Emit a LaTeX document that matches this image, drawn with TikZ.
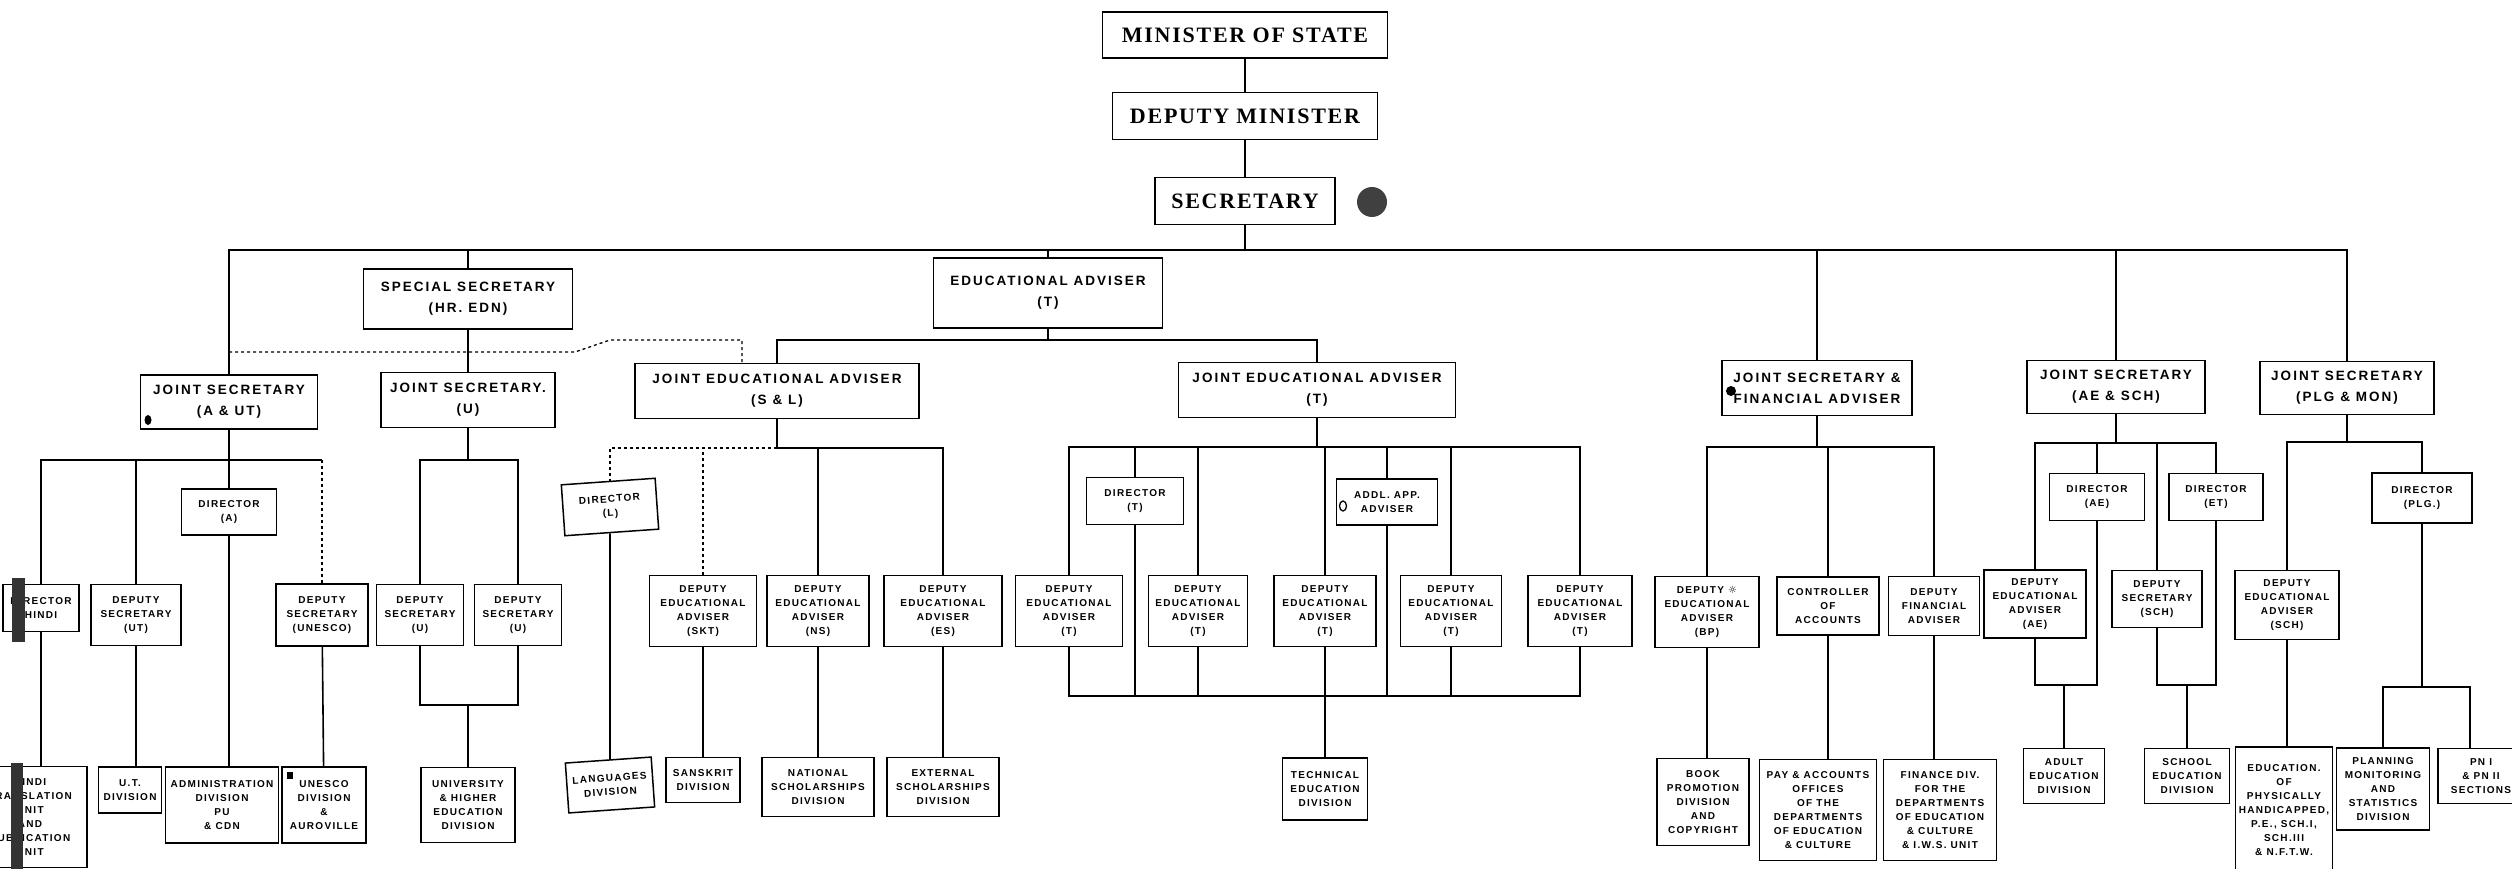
\documentclass[tikz,border=0pt]{standalone}
\usepackage{fontspec}
\usepackage{tikz}
\newfontfamily\lblserif[LetterSpace=8]{Liberation Serif}
\newfontfamily\lblhead[LetterSpace=15]{Liberation Sans}
\newfontfamily\lblunit[LetterSpace=13]{Liberation Sans}
\newfontfamily\lblsym{DejaVu Sans}

\tikzset{
  topbox/.style={draw, line width=1.4pt, inner sep=0pt, font=\lblserif\bfseries\fontsize{22}{24}\selectfont},
  headbox/.style={draw, line width=1.8pt, inner sep=0pt, align=center, font=\lblhead\bfseries\fontsize{13.5}{21}\selectfont},
  unitbox/.style={draw, line width=1.5pt, inner sep=0pt, align=center, font=\lblunit\bfseries\fontsize{10}{14}\selectfont},
  boxsize/.style 2 args={minimum width=#1pt, minimum height=#2pt},
  link/.style={line width=1.6pt},
  dotlink/.style={line width=1.3pt, dash pattern=on 3pt off 3pt},
}

\begin{document}
\begin{tikzpicture}[x=1pt, y=-1pt]
    \useasboundingbox (0,0) rectangle (2512,869);
    \clip (0,0) rectangle (2512,869);

    \node (minister) [topbox, boxsize={285}{46}] at (1245,35) {MINISTER OF STATE};
    \node (depmin) [topbox, boxsize={265}{47}] at (1245,116) {DEPUTY MINISTER};
    \node (secy) [topbox, boxsize={180}{47}] at (1245,201) {SECRETARY};
    \fill[black!75] (1372,202) circle (15pt);

    \node (spsec) [headbox, boxsize={209}{60}] at (468,299) {SPECIAL SECRETARY\\(HR. EDN)};
    \node (eduadv) [headbox, boxsize={229}{70}] at (1048,293) {EDUCATIONAL ADVISER\\(T)};
    \node (jsaut) [headbox, boxsize={177}{54}] at (229,402) {JOINT SECRETARY\\(A \& UT)};
    \node (jsu) [headbox, boxsize={174}{55}] at (468,400) {JOINT SECRETARY.\\(U)};
    \node (jeasl) [headbox, boxsize={284}{55}] at (777,391) {JOINT EDUCATIONAL ADVISER\\(S \& L)};
    \node (jeat) [headbox, boxsize={277}{55}] at (1317,390) {JOINT EDUCATIONAL ADVISER\\(T)};
    \node (jsfa) [headbox, boxsize={190}{55}] at (1817,388) {JOINT SECRETARY \&\\FINANCIAL ADVISER};
    \node (jsae) [headbox, boxsize={178}{53}] at (2116,387) {JOINT SECRETARY\\(AE \& SCH)};
    \node (jsplg) [headbox, boxsize={174}{53}] at (2347,388) {JOINT SECRETARY\\(PLG \& MON)};
    \fill (148,420) ellipse (3.5pt and 5pt);
    \fill (1731,391) circle (5pt);

    \draw[link] (minister) -- (depmin);
    \draw[link] (depmin) -- (secy);
    \coordinate (mainbar) at (0,250);
    \draw[link] (secy) -- (secy |- mainbar);
    \draw[link] (jsaut) |- (jsplg.north |- mainbar) -- (jsplg);
    \foreach \n in {spsec, eduadv, jsfa, jsae}
        \draw[link] (\n) -- (\n |- mainbar);
    \draw[link] (spsec) -- (jsu);
    \draw[dotlink] (jsaut.north |- 0,352) -- (575,352) -- (610,340) -- (742,340) -- (jeasl.north -| 742,0);

    \coordinate (eabar) at (0,340);
    \draw[link] (eduadv) -- (eduadv |- eabar);
    \draw[link] (jeasl) |- (jeat.north |- eabar) -- (jeat);

    \node (dirhindi) [unitbox, boxsize={76}{47}] at (41,608) {DIRECTOR\\HINDI};
    \node (dsut) [unitbox, boxsize={90}{61}] at (136,615) {DEPUTY\\SECRETARY\\(UT)};
    \node (dira) [unitbox, boxsize={95}{46}] at (229,512) {DIRECTOR\\(A)};
    \node (dsunesco) [unitbox, boxsize={92}{62}] at (322,615) {DEPUTY\\SECRETARY\\(UNESCO)};
    \node (hindiunit) [unitbox, boxsize={114}{101}] at (30,817) {HINDI\\TRANSLATION\\UNIT\\AND\\PUBLICATION\\UNIT};
    \node (utdiv) [unitbox, boxsize={63}{46}] at (130,790) {U.T.\\DIVISION};
    \node (admindiv) [unitbox, boxsize={113}{76}] at (222,805) {ADMINISTRATION\\DIVISION\\PU\\\& CDN};
    \node (unescodiv) [unitbox, boxsize={84}{76}] at (324,805) {UNESCO\\DIVISION\\\&\\AUROVILLE};
    \fill (287,772) rectangle (293,779);
    \fill[black!80] (12,578) rectangle (25,642);
    \fill[black!80] (11,763) rectangle (23,869);

    \coordinate (autbar) at (0,460);
    \draw[link] (jsaut) -- (jsaut |- autbar);
    \draw[link] (dirhindi) |- (dsunesco.north |- autbar);
    \draw[link] (dsut) -- (dsut |- autbar);
    \draw[link] (dira) -- (dira |- autbar);
    \draw[dotlink] (dsunesco) -- (dsunesco |- autbar);
    \draw[link] (dirhindi) -- (dirhindi |- hindiunit.north);
    \draw[link] (dsut) -- (dsut |- utdiv.north);
    \draw[link] (dira) -- (dira |- admindiv.north);
    \draw[link] (dsunesco) -- (unescodiv);

    \node (dsuone) [unitbox, boxsize={87}{61}] at (420,615) {DEPUTY\\SECRETARY\\(U)};
    \node (dsutwo) [unitbox, boxsize={87}{61}] at (518,615) {DEPUTY\\SECRETARY\\(U)};
    \node (univdiv) [unitbox, boxsize={94}{75}] at (468,805) {UNIVERSITY\\\& HIGHER\\EDUCATION\\DIVISION};
    \coordinate (ubar) at (0,460);
    \coordinate (ujoin) at (0,705);
    \draw[link] (jsu) -- (jsu |- ubar);
    \draw[link] (dsuone) |- (dsutwo.north |- ubar) -- (dsutwo);
    \draw[link] (dsuone) |- (dsutwo.south |- ujoin) -- (dsutwo);
    \draw[link] (univdiv) -- (univdiv |- ujoin);

    \node (dirl) [unitbox, boxsize={94}{51}, rotate=4] at (610,507) {DIRECTOR\\(L)};
    \node (deaskt) [unitbox, boxsize={107}{71}] at (703,611) {DEPUTY\\EDUCATIONAL\\ADVISER\\(SKT)};
    \node (deans) [unitbox, boxsize={102}{71}] at (818,611) {DEPUTY\\EDUCATIONAL\\ADVISER\\(NS)};
    \node (deaes) [unitbox, boxsize={118}{71}] at (943,611) {DEPUTY\\EDUCATIONAL\\ADVISER\\(ES)};
    \node (langdiv) [unitbox, boxsize={86}{50}, rotate=4] at (610,785) {LANGUAGES\\DIVISION};
    \node (sktdiv) [unitbox, boxsize={74}{45}] at (703,780) {SANSKRIT\\DIVISION};
    \node (nsdiv) [unitbox, boxsize={112}{59}] at (818,787) {NATIONAL\\SCHOLARSHIPS\\DIVISION};
    \node (esdiv) [unitbox, boxsize={112}{59}] at (943,787) {EXTERNAL\\SCHOLARSHIPS\\DIVISION};
    \coordinate (slbar) at (0,448);
    \draw[link] (jeasl) -- (jeasl |- slbar) -| (deaes);
    \draw[link] (deans) -- (deans |- slbar);
    \draw[dotlink] (jeasl |- slbar) -| (dirl);
    \draw[dotlink] (deaskt) -- (deaskt |- slbar);
    \draw[link] (dirl) -- (langdiv);
    \foreach \a/\b in {deaskt/sktdiv, deans/nsdiv, deaes/esdiv}
        \draw[link] (\a) -- (\b);

    \node (dirt) [unitbox, boxsize={97}{47}] at (1135,501) {DIRECTOR\\(T)};
    \node (addl) [unitbox, boxsize={101}{46}] at (1387,502) {ADDL. APP.\\ADVISER};
    \draw[line width=1.3pt] (1343,506) ellipse (3.5pt and 5pt);
    \node (deatone) [unitbox, boxsize={107}{71}] at (1069,611) {DEPUTY\\EDUCATIONAL\\ADVISER\\(T)};
    \node (deattwo) [unitbox, boxsize={99}{71}] at (1198,611) {DEPUTY\\EDUCATIONAL\\ADVISER\\(T)};
    \node (deatthree) [unitbox, boxsize={102}{71}] at (1325,611) {DEPUTY\\EDUCATIONAL\\ADVISER\\(T)};
    \node (deatfour) [unitbox, boxsize={101}{71}] at (1451,611) {DEPUTY\\EDUCATIONAL\\ADVISER\\(T)};
    \node (deatfive) [unitbox, boxsize={104}{71}] at (1580,611) {DEPUTY\\EDUCATIONAL\\ADVISER\\(T)};
    \node (techdiv) [unitbox, boxsize={85}{62}] at (1325,789) {TECHNICAL\\EDUCATION\\DIVISION};
    \coordinate (tbar) at (0,447);
    \coordinate (tjoin) at (0,696);
    \draw[link] (jeat) -- (jeat |- tbar);
    \draw[link] (deatone) |- (deatfive.north |- tbar) -- (deatfive);
    \foreach \n in {dirt, deattwo, deatthree, addl, deatfour}
        \draw[link] (\n) -- (\n |- tbar);
    \draw[link] (deatone) |- (deatfive.south |- tjoin) -- (deatfive);
    \foreach \n in {dirt, deattwo, addl, deatfour}
        \draw[link] (\n) -- (\n |- tjoin);
    \draw[link] (deatthree) -- (techdiv);

    \node (deabp) [unitbox, boxsize={104}{71}] at (1707,612) {DEPUTY {\lblsym ☼}\\EDUCATIONAL\\ADVISER\\(BP)};
    \node (ctrlacc) [unitbox, boxsize={102}{58}] at (1828,606) {CONTROLLER\\OF\\ACCOUNTS};
    \node (dfa) [unitbox, boxsize={91}{59}] at (1934,606) {DEPUTY\\FINANCIAL\\ADVISER};
    \node (bookdiv) [unitbox, boxsize={92}{87}] at (1703,802) {BOOK\\PROMOTION\\DIVISION\\AND\\COPYRIGHT};
    \node (paydiv) [unitbox, boxsize={117}{101}] at (1818,810) {PAY \& ACCOUNTS\\OFFICES\\OF THE\\DEPARTMENTS\\OF EDUCATION\\\& CULTURE};
    \node (findiv) [unitbox, boxsize={113}{101}] at (1940,810) {FINANCE DIV.\\FOR THE\\DEPARTMENTS\\OF EDUCATION\\\& CULTURE\\\& I.W.S. UNIT};
    \coordinate (fabar) at (0,447);
    \draw[link] (jsfa) -- (jsfa |- fabar);
    \draw[link] (deabp) |- (dfa.north |- fabar) -- (dfa);
    \draw[link] (ctrlacc) -- (ctrlacc |- fabar);
    \draw[link] (deabp) -- (deabp |- bookdiv.north);
    \draw[link] (ctrlacc) -- (ctrlacc |- paydiv.north);
    \draw[link] (dfa) -- (dfa |- findiv.north);

    \node (dirae) [unitbox, boxsize={95}{47}] at (2097,497) {DIRECTOR\\(AE)};
    \node (diret) [unitbox, boxsize={94}{47}] at (2216,497) {DIRECTOR\\(ET)};
    \node (deaae) [unitbox, boxsize={102}{68}] at (2035,604) {DEPUTY\\EDUCATIONAL\\ADVISER\\(AE)};
    \node (dssch) [unitbox, boxsize={90}{57}] at (2157,599) {DEPUTY\\SECRETARY\\(SCH)};
    \node (adultdiv) [unitbox, boxsize={81}{55}] at (2064,776) {ADULT\\EDUCATION\\DIVISION};
    \node (schooldiv) [unitbox, boxsize={85}{55}] at (2187,776) {SCHOOL\\EDUCATION\\DIVISION};
    \coordinate (aebar) at (0,443);
    \coordinate (aejoin) at (0,685);
    \draw[link] (jsae) -- (jsae |- aebar);
    \draw[link] (deaae) |- (diret.north |- aebar) -- (diret);
    \foreach \n in {dirae, dssch}
        \draw[link] (\n) -- (\n |- aebar);
    \draw[link] (deaae) |- (dirae.south |- aejoin) -- (dirae);
    \draw[link] (dssch) |- (diret.south |- aejoin) -- (diret);
    \draw[link] (adultdiv) -- (adultdiv |- aejoin);
    \draw[link] (schooldiv) -- (schooldiv |- aejoin);

    \node (dirplg) [unitbox, boxsize={100}{50}] at (2422,498) {DIRECTOR\\(PLG.)};
    \node (deasch) [unitbox, boxsize={104}{69}] at (2287,605) {DEPUTY\\EDUCATIONAL\\ADVISER\\(SCH)};
    \node (ephdiv) [unitbox, boxsize={97}{126}] at (2284,810) {EDUCATION.\\OF\\PHYSICALLY\\HANDICAPPED,\\P.E., SCH.I,\\SCH.III\\\& N.F.T.W.};
    \node (plandiv) [unitbox, boxsize={93}{82}] at (2383,789) {PLANNING\\MONITORING\\AND\\STATISTICS\\DIVISION};
    \node (pndiv) [unitbox, boxsize={86}{55}] at (2481,776) {PN I\\\& PN II\\SECTIONS};
    \coordinate (plgbar) at (0,442);
    \coordinate (plgjoin) at (0,687);
    \coordinate (pnin) at ([xshift=-11pt]pndiv.north);
    \draw[link] (jsplg) -- (jsplg |- plgbar);
    \draw[link] (deasch) |- (dirplg.north |- plgbar) -- (dirplg);
    \draw[link] (deasch) -- (deasch |- ephdiv.north);
    \draw[link] (dirplg) -- (dirplg |- plgjoin);
    \draw[link] (plandiv) |- (pnin |- plgjoin) -- (pnin);
\end{tikzpicture}
\end{document}
